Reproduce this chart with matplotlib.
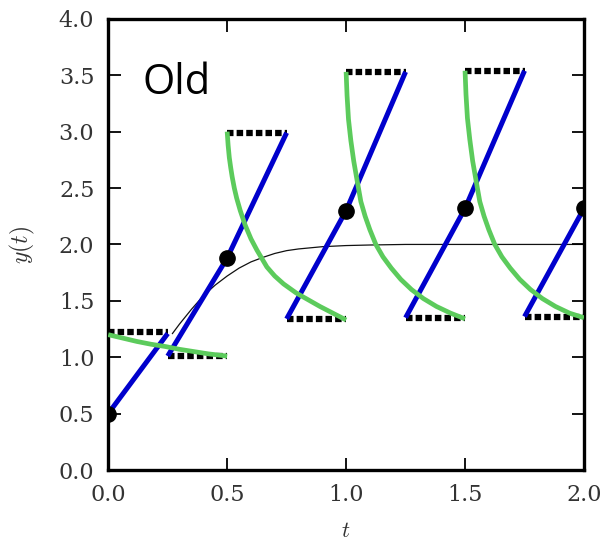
import matplotlib
matplotlib.use("Agg")
import matplotlib.pyplot as plt

# blue slope segments (start, midpoint dot, end)
blue_t = [[0.0, 0.25], [0.25, 0.5, 0.75], [0.75, 1.0, 1.25], [1.25, 1.5, 1.75], [1.75, 2.0]]
blue_y = [[0.50, 1.21], [1.01, 1.88, 2.99], [1.34, 2.30, 3.53], [1.35, 2.32, 3.54], [1.36, 2.32]]

# green local solution curves
green_t = [
    [0.0, 0.06, 0.12, 0.18, 0.24, 0.3, 0.36, 0.42, 0.5],
    [0.5, 0.504, 0.509, 0.515, 0.521, 0.53, 0.54, 0.555, 0.576, 0.6, 0.625, 0.667,
     0.7, 0.737, 0.79, 0.84, 0.89, 0.945, 1.0],
    [1.0, 1.004, 1.01, 1.02, 1.032, 1.046, 1.062, 1.08, 1.1, 1.125, 1.155, 1.19,
     1.23, 1.275, 1.325, 1.38, 1.44, 1.5],
    [1.5, 1.504, 1.51, 1.52, 1.532, 1.546, 1.562, 1.58, 1.6, 1.625, 1.655, 1.69,
     1.73, 1.775, 1.825, 1.88, 1.94, 2.0],
]
green_y = [
    [1.20, 1.17, 1.14, 1.115, 1.095, 1.07, 1.05, 1.03, 1.01],
    [3.0, 2.88, 2.77, 2.68, 2.60, 2.50, 2.41, 2.30, 2.17, 2.05, 1.95, 1.80,
     1.72, 1.65, 1.57, 1.51, 1.45, 1.39, 1.33],
    [3.53, 3.32, 3.11, 2.92, 2.74, 2.57, 2.38, 2.25, 2.13, 2.00, 1.89, 1.79,
     1.69, 1.60, 1.52, 1.45, 1.39, 1.34],
    [3.54, 3.33, 3.12, 2.93, 2.74, 2.57, 2.38, 2.25, 2.13, 2.00, 1.89, 1.79,
     1.69, 1.60, 1.52, 1.45, 1.39, 1.35],
]

# black dotted horizontal steps
step_t0 = [0.0, 0.25, 0.5, 0.75, 1.0, 1.25, 1.5, 1.75]
step_t1 = [0.25, 0.5, 0.75, 1.0, 1.25, 1.5, 1.75, 2.0]
step_y = [1.22, 1.01, 2.99, 1.335, 3.53, 1.345, 3.54, 1.355]

# points
dot_t = [0.0, 0.5, 1.0, 1.5, 2.0]
dot_y = [0.50, 1.88, 2.30, 2.32, 2.32]

# thin reference curve
ref_t = [0.27, 0.3, 0.35, 0.4, 0.45, 0.5, 0.55, 0.6, 0.65, 0.7, 0.75, 0.8, 0.9,
         1.0, 1.1, 1.25, 1.5, 2.0]
ref_y = [1.21, 1.295, 1.425, 1.545, 1.64, 1.72, 1.79, 1.845, 1.885, 1.92, 1.945, 1.96, 1.98,
         1.99, 1.995, 2.0, 2.0, 2.0]

plt.rcParams['mathtext.fontset'] = 'cm'

fig = plt.figure(figsize=(6.08, 5.39), dpi=100)
ax = fig.add_axes([0.178, 0.128, 0.7825, 0.837])

ax.plot(ref_t, ref_y, color='#111111', lw=0.9, zorder=1)
for a, b, y in zip(step_t0, step_t1, step_y):
    ax.plot([a, b], [y, y], color='black', lw=4.5, linestyle=(0, (1.04, 0.5)),
            dash_capstyle='butt', zorder=2)
for t, y in zip(blue_t, blue_y):
    ax.plot(t, y, color='#0000cc', lw=3.6, solid_capstyle='butt', zorder=3)
for t, y in zip(green_t, green_y):
    ax.plot(t, y, color='#5ccb5c', lw=3.4, solid_capstyle='butt', zorder=4)
ax.plot(dot_t, dot_y, 'o', color='black', ms=11, zorder=5)

ax.text(0.143, 3.33, 'Old', fontsize=30, family='Open Sans', ha='left', va='baseline')

ax.set_xlim(0, 2)
ax.set_ylim(0, 4)
ax.set_xticks([0, 0.5, 1.0, 1.5, 2.0])
ax.set_yticks([0, 0.5, 1.0, 1.5, 2.0, 2.5, 3.0, 3.5, 4.0])
ax.tick_params(direction='in', length=9, width=1.3, top=True, right=True,
               labelsize=16, labelcolor='#333333', pad=10)
for lab in ax.get_xticklabels() + ax.get_yticklabels():
    lab.set_family('DejaVu Serif')
for s in ax.spines.values():
    s.set_linewidth(2.4)

ax.set_xlabel('$t$', fontsize=16, color='#333333')
ax.set_ylabel('$y(t)$', fontsize=17, color='#333333')
ax.xaxis.set_label_coords(0.5, -0.112)
ax.yaxis.set_label_coords(-0.15, 0.5)

fig.savefig('out.png', dpi=100)
